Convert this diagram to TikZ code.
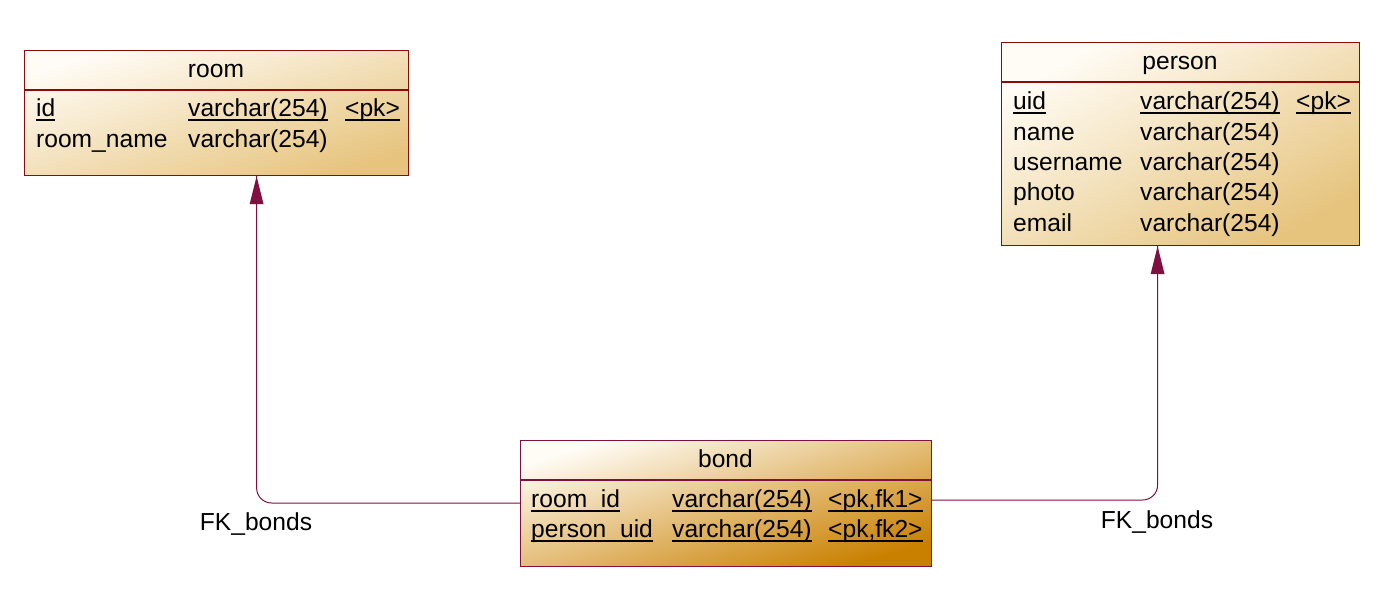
\documentclass[tikz,border=0pt]{standalone}
\usepackage{fontspec}
\setmainfont{Liberation Sans}
\usetikzlibrary{arrows.meta}
\definecolor{bordRed}{HTML}{8B0A0A}
\definecolor{bordPur}{HTML}{80103F}
\definecolor{linkCol}{HTML}{80103F}
\definecolor{lightTop}{HTML}{FFFCF5}
\definecolor{tanBot}{HTML}{E6C47E}
\definecolor{bondMid}{HTML}{EBC585}
\definecolor{bondBot}{HTML}{C98000}
\newcommand\ulin[1]{\setbox0\hbox{#1}\rlap{\vrule height -2.5pt depth 4.5pt width \wd0}\box0}
\begin{document}
\begin{tikzpicture}[x=1pt,y=-1pt,
  tablebox/.style={draw=bordRed, line width=1.2pt, inner sep=0pt, anchor=north west,
    top color=lightTop, bottom color=tanBot},
  bondbox/.style={draw=bordPur, line width=1.2pt, inner sep=0pt, anchor=north west,
    top color=lightTop, middle color=bondMid, bottom color=bondBot, shading angle=17},
  txt/.style={anchor=base west, inner sep=0pt, font=\fontsize{24.6}{30}\selectfont},
  ttl/.style={txt, anchor=base},
  fk/.style={draw=linkCol, line width=1pt, rounded corners=15pt},
]
\useasboundingbox (0,0) rectangle (1393,594);

% room
\node[tablebox, shading angle=18, minimum width=384pt, minimum height=125pt] (room) at (24,50) {};
\draw[bordRed, line width=1.2pt] ([yshift=-40pt]room.north west) -- ([yshift=-40pt]room.north east);
\node[ttl] (roomT) at (216,77.5) {room};
\node[txt] (room1a) at (36,117) {\ulin{id}};
\node[txt] (room1b) at (188,117) {\ulin{varchar(254)}};
\node[txt] (room1c) at (345,117) {\ulin{<pk>}};
\node[txt] (room2a) at (36,147.5) {room\_name};
\node[txt] (room2b) at (188,147.5) {varchar(254)};

% person
\node[tablebox, shading angle=29, minimum width=358pt, minimum height=203pt] (person) at (1001,42) {};
\draw[bordRed, line width=1.2pt] ([yshift=-40pt]person.north west) -- ([yshift=-40pt]person.north east);
\node[ttl] (personT) at (1180,70) {person};
\node[txt] (p1a) at (1013,109.7) {\ulin{uid}};
\node[txt] (p1b) at (1140,109.7) {\ulin{varchar(254)}};
\node[txt] (p1c) at (1296,109.7) {\ulin{<pk>}};
\node[txt] (p2a) at (1013,140) {name};
\node[txt] (p2b) at (1140,140) {varchar(254)};
\node[txt] (p3a) at (1013,170.3) {username};
\node[txt] (p3b) at (1140,170.3) {varchar(254)};
\node[txt] (p4a) at (1013,200.7) {photo};
\node[txt] (p4b) at (1140,200.7) {varchar(254)};
\node[txt] (p5a) at (1013,231.2) {email};
\node[txt] (p5b) at (1140,231.2) {varchar(254)};

% bond
\node[bondbox, minimum width=411pt, minimum height=126pt] (bond) at (520,440) {};
\draw[bordPur, line width=1.2pt] ([yshift=-40pt]bond.north west) -- ([yshift=-40pt]bond.north east);
\node[ttl] (bondT) at (725.5,467.5) {bond};
\node[txt] (b1a) at (531,507.7) {\ulin{room\_id}};
\node[txt] (b1b) at (672,507.7) {\ulin{varchar(254)}};
\node[txt] (b1c) at (828,507.7) {\ulin{<pk,fk1>}};
\node[txt] (b2a) at (531,537) {\ulin{person\_uid}};
\node[txt] (b2b) at (672,537) {\ulin{varchar(254)}};
\node[txt] (b2c) at (828,537) {\ulin{<pk,fk2>}};

% connectors
\coordinate (roomIn) at ([xshift=40pt]room.south);
\coordinate (personIn) at ([xshift=-23pt]person.south);
\coordinate (bondL) at ([yshift=-63pt]bond.north west);
\coordinate (bondR) at ([yshift=-60pt]bond.north east);
\draw[fk] (bondL) -| (roomIn);
\draw[fk] (bondR) -| (personIn);
\fill[linkCol] (roomIn) -- ++(-7,28) -- ++(14,0) -- cycle;
\fill[linkCol] (personIn) -- ++(-7,28) -- ++(14,0) -- cycle;
\node[ttl] (lbl1) at (256,530.5) {FK\_bonds};
\node[ttl] (lbl2) at (1157,528) {FK\_bonds};
\end{tikzpicture}
\end{document}
